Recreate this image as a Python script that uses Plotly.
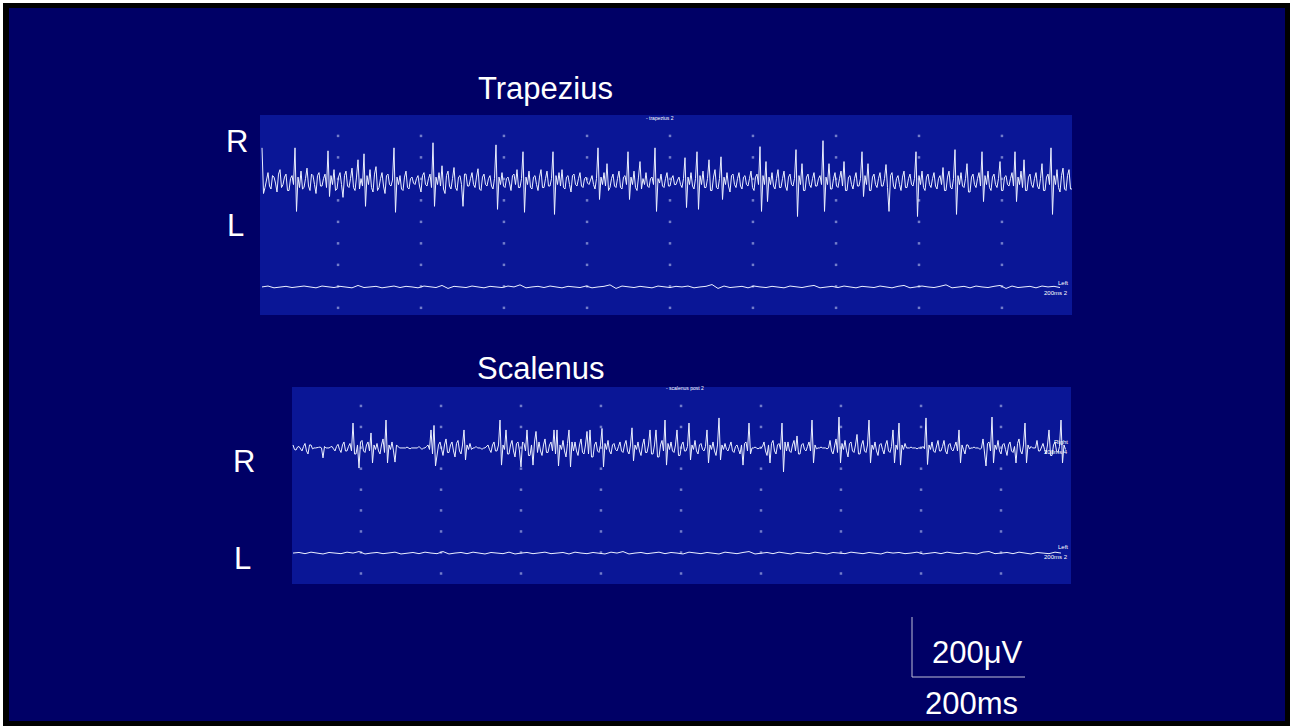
import plotly.graph_objects as go

W, H = 1297, 726

# ---------------- data (µV, one sample per step) ----------------
trap_R = [
    113, -40, -20, 10, 30, -15, -25, 20, 15, -5, -35, 25, 40, -20, -10, 15, 25, -30, -30, 10,
    20, -10, 113, -100, 15, -20, 35, -25, -20, 10, 45, -15, -30, 25, 20, -10, -40, 20, 30, -15,
    -15, 10, 25, -20, 103, -50, 20, -10, 40, -30, -25, 15, 30, -10, -53, 20, 35, -15, -20, 10,
    45, -20, -30, 15, 73, -25, 10, -15, 93, -83, 20, -10, 40, -20, -35, 25, 50, -30, -20, 10,
    30, -15, -40, 20, 25, -10, -15, 5, 113, -103, 15, -10, 20, -25, -30, 15, 35, -20, -25, 10,
    15, -5, -10, 10, 20, -15, -35, 20, 30, -10, -15, 10, 25, -20, 130, -83, 15, -10, 30, -15,
    53, -25, -40, 20, 35, -15, -25, 10, 47, -20, -30, 15, 20, -10, -83, 25, 25, -15, -15, 10,
    30, -10, -20, 15, 43, -25, -30, 15, 25, -10, -15, 10, 20, -15, -25, 10, 123, -93, 15, -10,
    30, -15, -20, 10, 15, -5, -30, 20, 25, -10, 40, -20, -20, 10, 100, -103, 15, -10, 35, -20,
    -25, 15, 20, -10, -30, 15, 40, -20, -20, 10, 35, -15, -15, 10, 100, -110, 20, -10, 30, -15,
    40, -20, -25, 15, 20, -10, -35, 20, 25, -10, -15, 10, 30, -15, -20, 10, 15, -5, -10, 5,
    20, -10, -25, 10, 113, -60, 15, -10, 30, -15, 60, -30, -20, 10, 25, -15, -20, 10, 35, -20,
    -25, 15, 20, -10, 100, -60, 15, -10, 35, -20, -30, 15, 67, -25, 10, -10, 30, -15, -20, 10,
    15, -10, 113, -100, 10, -5, 25, -15, -20, 10, 30, -15, -15, 10, 20, -10, -10, 5, 15, -10,
    -20, 10, 80, -87, 15, -10, 30, -15, -25, 10, 100, -93, 20, -10, 35, -20, -20, 10, 73, -30,
    -30, 15, 40, -20, -25, 10, 83, -60, 15, -10, 30, -15, -35, 20, 25, -10, -20, 10, 30, -15,
    -25, 15, 20, -10, -15, 10, 35, -20, -30, 15, 25, -10, 117, -100, 20, -10, 67, -67, 15, -10,
    30, -15, -25, 10, 40, -20, -20, 10, 35, -15, -30, 15, 25, -10, -15, 10, 107, -117, 20, -10,
    60, -30, -30, 15, 25, -10, -20, 10, 30, -15, -15, 10, 20, -10, 137, -100, 15, -10, 60, -25,
    -25, 10, 30, -15, -20, 10, 35, -15, 67, -30, -30, 15, 20, -10, -25, 10, 30, -15, -15, 10,
    100, -50, 20, -10, 60, -30, -30, 15, 25, -10, -20, 10, 30, -15, -15, 10, 57, -20, -100, 20,
    30, -15, -25, 10, 20, -10, -30, 15, 35, -20, -20, 10, 25, -10, -15, 10, 100, -117, 20, -10,
    35, -20, -30, 15, 25, -10, -20, 10, 30, -15, -25, 10, 20, -10, 47, -30, -30, 15, 35, -20,
    -25, 10, 107, -110, 20, -10, 30, -15, -20, 10, 60, -35, -35, 15, 25, -10, -20, 10, 30, -15,
    100, -67, 20, -10, 35, -20, -30, 15, 25, -10, -20, 10, 67, -30, -30, 15, 20, -10, -15, 10,
    30, -15, 100, -67, 15, -10, 35, -20, 73, -30, -30, 15, 25, -10, -20, 10, 30, -15, -25, 10,
    60, -30, -30, 15, 25, -10, 113, -110, 20, -10, 40, -20, -35, 20, 45, -25, -30, 20, 40, -25,
    -25,
]
trap_L = [
    0, 3, -3, 0, 2, -2, 0, 3, 0, -3,
    3, 0, -2, 2, 0, -3, 5, -2, 0, 2,
    -3, 0, 3, -2, 2, 0, -3, 3, 0, -2,
    5, -5, 2, 0, -2, 3, 0, -3, 2, 0,
    -2, 3, 0, 7, -3, 0, 2, -2, 3, 0,
    -3, 2, 0, -2, 3, -3, 0, 2, 7, -5,
    3, 0, -2, 2, 0, -3, 3, 0, -2, 2,
    0, 3, -3, 0, 2, 8, -5, 3, -2, 0,
    2, -3, 3, 0, -2, 2, 0, -3, 3, 0,
    -2, 2, 5, -3, 0, 2, -2, 3, 0, -3,
    2, 0, -2, 3, 0, -3, 2, 5, -3, 0,
    3, 0, -2, 2, 7, -3, 0, 2, -3, 3,
    0, -2, 2, 5, -5, 3, -2, 0, 2, -3,
    3, 0, 2, -2,
]
scal_R = [
    10, -5, -7, 3, 5, -5, -10, 5, 15, -10, -20, 10, 10, -3, 0, 0, 0, 2, 3, 0,
    -33, 5, 0, 0, 0, 3, 5, -3, -10, 5, 12, -5, -15, 10, 20, -10, -10, 5, 15, -10,
    83, -20, -20, 10, -67, 20, 25, -10, -15, 10, 20, -10, 50, -50, 10, -5, 15, -10, -20, 10,
    30, -15, 93, -50, 10, -5, 20, -10, -47, 10, 5, 0, 0, 0, 0, 0, 3, 0, -3, 0,
    0, 0, 0, 0, 5, 0, -5, 0, 0, 5, 10, -5, 60, -20, 75, -60, -20, 10, 20, -10,
    -25, 10, 30, -15, -15, 10, 20, -10, -30, 15, 25, -10, -20, 10, 60, -40, 10, -5, 15, -5,
    0, 0, 5, 0, 0, 0, -5, 0, 0, 5, 10, -5, -15, 10, 20, -10, -10, 10, 93, -57,
    10, -5, 60, -20, -20, 10, 25, -10, -30, 15, 20, -10, -63, 20, 15, -10, 60, -25, -25, 10,
    -57, 20, 55, -15, 20, -10, -25, 10, 30, -15, -15, 10, 20, -10, 60, -20, 60, -60, 10, -5,
    25, -10, -30, 15, 60, -63, 20, -10, 20, -10, -25, 10, 30, -15, -20, 10, 55, -20, 60, -30,
    -30, 10, 20, -10, -15, 10, 65, -63, 15, -5, 25, -10, -20, 10, 15, -5, -10, 5, 20, -10,
    -15, 10, 25, -10, -20, 10, 67, -43, 10, -5, 20, -10, -25, 10, 30, -15, -15, 10, 60, -20,
    -20, 10, 60, -30, -30, 10, 25, -10, 93, -57, 15, -5, 20, -10, -15, 10, 60, -25, -25, 10,
    20, -10, -10, 5, 83, -40, 10, -5, 25, -10, -20, 10, 15, -5, -10, 5, 60, -50, 10, -5,
    20, -10, -25, 10, 100, -40, 10, -5, 15, -5, -10, 5, 20, -10, -15, 5, 10, -5, -20, 10,
    -57, 15, 20, -10, 83, -20, 0, 0, 3, 0, -3, 0, 0, 5, 20, -10, -25, 10, -50, 15,
    25, -10, -20, 10, 15, -5, 83, -80, 20, -10, 20, -10, -15, 10, 25, -10, 40, -20, -20, 10,
    15, -5, -10, 5, 20, -10, 93, -50, 10, -3, 0, 0, 3, 0, 0, 0, -3, 0, 25, -10,
    -20, 10, 30, -15, 103, -50, 15, -5, 25, -10, -30, 15, 20, -10, -15, 10, 45, -20, -20, 10,
    25, -10, -15, 10, 93, -50, 10, -5, 20, -10, -25, 10, 15, -5, -20, 10, 25, -10, -15, 5,
    60, -50, 10, -5, 83, -57, 10, -5, 15, 0, 0, 0, 3, 0, 0, 0, -3, 0, 0, 0,
    5, -3, 100, -55, 10, -5, 20, -10, -15, 10, 25, -10, -10, 5, 25, -10, -20, 10, 15, -5,
    -10, 5, 20, -10, 60, -50, 10, -5, -20, 10, 10, -3, 0, 0, 3, 0, 0, 0, -5, 0,
    30, -10, -60, 15, 20, -10, 103, -50, 10, -5, 25, -10, -20, 10, 15, -5, -25, 10, 20, -10,
    -15, 5, -50, 15, 30, -10, -20, 10, 83, -50, 10, -3, 5, 0, 0, 0, 25, -10, -10, 5,
    15, -5, -20, 10, 60, -25, -25, 10, 20, -10, -15, 5, 93, -50, 10, -5,
]
scal_L = [
    0, 2, -2, 3, 0, -3, 2, 0, -2, 3,
    0, 5, -3, 0, 2, -2, 0, 3, -3, 0,
    2, -2, 3, 0, -2, 5, -3, 0, 2, -2,
    3, 0, -3, 2, 0, -2, 3, -3, 0, 2,
    -2, 0, 3, -2, 0, 2, -3, 3, 0, -2,
    2, 0, -3, 3, 0, 5, -3, 0, 2, -2,
    0, 3, -2, 2, 0, -3, 3, 0, -2, 2,
    0, -3, 3, 0, -2, 2, 5, -3, 0, 2,
    -2, 3, 0, -3, 2, 0, -2, 3, 0, -3,
    2, 0, -2, 3, 0, -2, 2, 0, -3, 3,
    0, 2, -2, 0, 3, -3, 0, 2, -2, 3,
    0, -2, 2, 0, -3, 3, 5, -2, 0, 2,
    -2, 3, 0, -3, 2, 0, -2, 3, 0,
]

L_STEP = 4  # left-channel samples are recorded at a quarter of the right-channel index rate

# channel offsets (µV) on each panel's axis
trap_offsets = {"R": 0, "L": -353}
scal_offsets = {"R": 0, "L": -350}

# dotted grid tick positions (sample index / µV)
trap_grid_x = [50.7, 106.0, 161.3, 216.7, 272.0, 327.3, 382.7, 438.0, 493.3]
trap_grid_y = [153, 81, 9, -63, -135, -207, -279, -351, -423]
scal_grid_x = [45.3, 98.7, 152.0, 205.3, 258.7, 312.0, 365.3, 418.7, 472.0]
scal_grid_y = [140, 70, 1, -69, -139, -208, -278, -348, -418]

# ---------------- layout helpers ----------------
def px(x):
    return x / W

def py(y):
    return 1 - y / H

NAVY = "rgb(0,0,102)"
PANEL = "rgb(10,22,150)"
TRACE = "rgb(236,240,255)"
DOT = "rgba(140,150,215,0.8)"
FONT = "Arial, Liberation Sans, sans-serif"

fig = go.Figure()

def add_panel(R, L, offs, gx, gy, xa, ya):
    dx, dy = [], []
    for yv in gy:
        for xv in gx:
            dx.append(xv)
            dy.append(yv)
    fig.add_trace(go.Scatter(x=dx, y=dy, mode="markers", xaxis=xa, yaxis=ya,
                             marker=dict(size=2.5, color=DOT, symbol="square", line=dict(width=0)),
                             hoverinfo="skip", showlegend=False))
    fig.add_trace(go.Scatter(x=list(range(len(R))), y=[v + offs["R"] for v in R],
                             mode="lines", xaxis=xa, yaxis=ya,
                             line=dict(color=TRACE, width=1), showlegend=False))
    fig.add_trace(go.Scatter(x=[L_STEP * j for j in range(len(L))], y=[v + offs["L"] for v in L],
                             mode="lines", xaxis=xa, yaxis=ya,
                             line=dict(color=TRACE, width=1), showlegend=False))

add_panel(trap_R, trap_L, trap_offsets, trap_grid_x, trap_grid_y, "x", "y")
add_panel(scal_R, scal_L, scal_offsets, scal_grid_x, scal_grid_y, "x2", "y2")

ax_common = dict(visible=False, showgrid=False, zeroline=False, fixedrange=True)
fig.update_layout(
    width=W, height=H, margin=dict(l=0, r=0, t=0, b=0),
    paper_bgcolor="white", plot_bgcolor="rgba(0,0,0,0)",
    showlegend=False,
    xaxis=dict(domain=[px(260), px(1072)], range=[-1.333, 540], anchor="y", **ax_common),
    yaxis=dict(domain=[py(315), py(115)], range=[-447, 223], anchor="x", **ax_common),
    xaxis2=dict(domain=[px(292), px(1071)], range=[-0.667, 518.67], anchor="y2", **ax_common),
    yaxis2=dict(domain=[py(584), py(387)], range=[-453, 203], anchor="x2", **ax_common),
)

shapes = [
    dict(type="rect", xref="paper", yref="paper", x0=px(3), x1=px(1290), y0=py(726), y1=py(3),
         fillcolor="black", line=dict(width=0), layer="below"),
    dict(type="rect", xref="paper", yref="paper", x0=px(9), x1=px(1285), y0=py(721), y1=py(8),
         fillcolor=NAVY, line=dict(width=0), layer="below"),
    dict(type="rect", xref="paper", yref="paper", x0=px(260), x1=px(1072), y0=py(315), y1=py(115),
         fillcolor=PANEL, line=dict(width=0), layer="below"),
    dict(type="rect", xref="paper", yref="paper", x0=px(292), x1=px(1071), y0=py(584), y1=py(387),
         fillcolor=PANEL, line=dict(width=0), layer="below"),
    # scale bar
    dict(type="line", xref="paper", yref="paper", x0=px(912), x1=px(912), y0=py(617), y1=py(677),
         line=dict(color="rgb(190,190,215)", width=1)),
    dict(type="line", xref="paper", yref="paper", x0=px(912), x1=px(1025), y0=py(677), y1=py(677),
         line=dict(color="rgb(190,190,215)", width=1)),
]
fig.update_layout(shapes=shapes)

def label(text, cx, cy, size=31, anchor="center"):
    return dict(text=text, x=px(cx), y=py(cy), xref="paper", yref="paper",
                xanchor=anchor, yanchor="middle", showarrow=False,
                font=dict(family=FONT, size=size, color="white"))

annotations = [
    label("Trapezius", 545, 88),
    label("Scalenus", 541, 368),
    label("R", 237, 141),
    label("L", 235, 226),
    label("R", 244, 461),
    label("L", 242, 558),
    label("200μV", 977, 652),
    label("200ms", 971, 703),
    label("- trapezius 2", 660, 118, size=5),
    label("Left", 1070, 283, size=6, anchor="right"),
    label("200ms 2", 1070, 293, size=6, anchor="right"),
    label("- scalenus post 2", 685, 388, size=5),
    label("Right", 1070, 442, size=6, anchor="right"),
    label("200ms 4", 1070, 452, size=6, anchor="right"),
    label("Left", 1070, 547, size=6, anchor="right"),
    label("200ms 2", 1070, 557, size=6, anchor="right"),
]
fig.update_layout(annotations=annotations)

fig.write_html("out.html")
